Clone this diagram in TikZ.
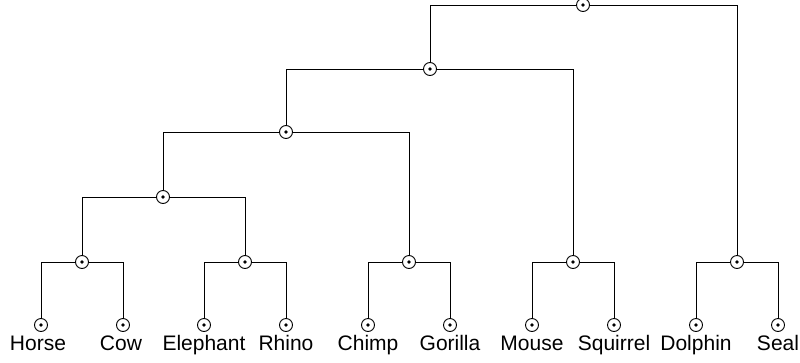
\documentclass[tikz,border=0pt]{standalone}
\usepackage{fontspec}
\setmainfont{Liberation Sans}
\begin{document}
\begin{tikzpicture}[x=1pt,y=-1pt,line width=0.9pt,
  knot/.style={circle,draw,inner sep=0pt,minimum size=13pt,
    path picture={\fill (path picture bounding box.center) circle (1.9pt);}},
  animal/.style={anchor=base,inner sep=0pt,font=\fontsize{21}{25}\selectfont}]
\useasboundingbox (0,0) rectangle (800,362);
% leaves
\node[knot] (horse) at (41,325) {};
\node[knot] (cow) at (123,325) {};
\node[knot] (elephant) at (204,325) {};
\node[knot] (rhino) at (286,325) {};
\node[knot] (chimp) at (368,325) {};
\node[knot] (gorilla) at (450,325) {};
\node[knot] (mouse) at (532,325) {};
\node[knot] (squirrel) at (614,325) {};
\node[knot] (dolphin) at (696,325) {};
\node[knot] (seal) at (778,325) {};
\node[animal] (horse-t) at (38,350) {Horse};
\node[animal] (cow-t) at (121,350) {Cow};
\node[animal] (elephant-t) at (204,350) {Elephant};
\node[animal] (rhino-t) at (286,350) {Rhino};
\node[animal] (chimp-t) at (368,350) {Chimp};
\node[animal] (gorilla-t) at (450,350) {Gorilla};
\node[animal] (mouse-t) at (532,350) {Mouse};
\node[animal] (squirrel-t) at (614,350) {Squirrel};
\node[animal] (dolphin-t) at (696,350) {Dolphin};
\node[animal] (seal-t) at (778,350) {Seal};
% inner nodes
\node[knot] (hc) at (82,262) {};
\node[knot] (er) at (245,262) {};
\node[knot] (cg) at (409,262) {};
\node[knot] (ms) at (573,262) {};
\node[knot] (ds) at (737,262) {};
\node[knot] (hcer) at (163,197) {};
\node[knot] (apes) at (286,132) {};
\node[knot] (rodents) at (430,69) {};
\node[knot] (root) at (583,5) {};
% branches
\draw (hc) -| (horse);
\draw (hc) -| (cow);
\draw (er) -| (elephant);
\draw (er) -| (rhino);
\draw (cg) -| (chimp);
\draw (cg) -| (gorilla);
\draw (ms) -| (mouse);
\draw (ms) -| (squirrel);
\draw (ds) -| (dolphin);
\draw (ds) -| (seal);
\draw (hcer) -| (hc);
\draw (hcer) -| (er);
\draw (apes) -| (hcer);
\draw (apes) -| (cg);
\draw (rodents) -| (apes);
\draw (rodents) -| (ms);
\draw (root) -| (rodents);
\draw (root) -| (ds);
\end{tikzpicture}
\end{document}
